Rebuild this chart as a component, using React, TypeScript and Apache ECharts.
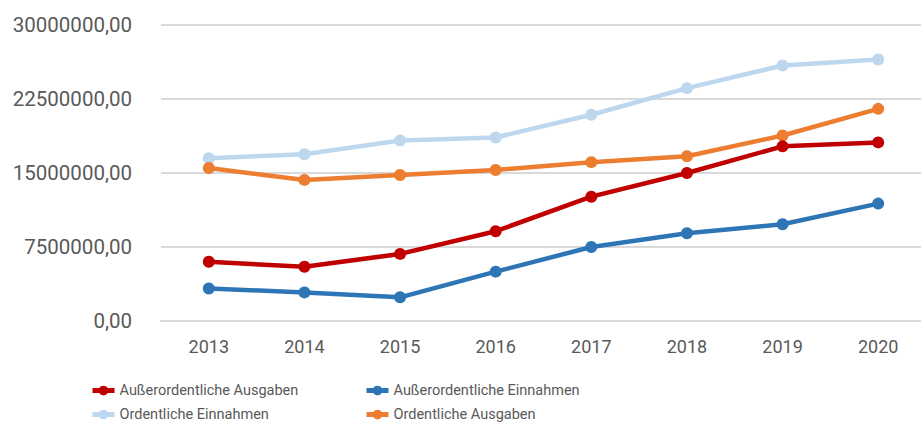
import React, { useEffect, useRef } from "react";
import * as echarts from "echarts";

const categories = ["2013", "2014", "2015", "2016", "2017", "2018", "2019", "2020"];
const ordentlicheEinnahmen = [16500000, 16900000, 18300000, 18600000, 20900000, 23600000, 25900000, 26500000];
const ordentlicheAusgaben = [15500000, 14300000, 14800000, 15300000, 16100000, 16700000, 18800000, 21500000];
const ausserordentlicheEinnahmen = [3300000, 2900000, 2400000, 5000000, 7500000, 8900000, 9800000, 11900000];
const ausserordentlicheAusgaben = [6000000, 5500000, 6800000, 9100000, 12600000, 15000000, 17700000, 18100000];

const FONT = "Roboto, sans-serif";

export default function App() {
  const ref = useRef<HTMLDivElement>(null);
  useEffect(() => {
    if (!ref.current) return;
    const chart = echarts.init(ref.current, null, { renderer: "svg" });
    const mk = (name: string, data: number[], color: string) => ({
      name,
      type: "line",
      data,
      symbol: "circle",
      symbolSize: 12,
      lineStyle: { color, width: 4.5 },
      itemStyle: { color },
    });
    const lg = (name: string, left: number, top: number) => ({
      orient: "horizontal",
      left,
      top,
      padding: 0,
      itemWidth: 22,
      itemHeight: 12,
      itemGap: 6,
      lineStyle: { width: 5 },
      data: [name],
      textStyle: { fontFamily: FONT, fontSize: 14.5, color: "#595959" },
    });
    chart.setOption({
      animation: false,
      backgroundColor: "#ffffff",
      grid: { left: 161, top: 25, width: 765, height: 296 },
      legend: [
        lg("Außerordentliche Ausgaben", 90, 383),
        lg("Außerordentliche Einnahmen", 364, 383),
        lg("Ordentliche Einnahmen", 90, 407),
        lg("Ordentliche Ausgaben", 364, 407),
      ],
      xAxis: {
        type: "category",
        data: categories,
        boundaryGap: true,
        axisLine: { show: true, lineStyle: { color: "#d9d9d9", width: 2 } },
        axisTick: { show: false },
        axisLabel: { fontFamily: FONT, fontSize: 18, color: "#595959", margin: 16 },
      },
      yAxis: {
        type: "value",
        min: 0,
        max: 30000000,
        interval: 7500000,
        axisLine: { show: false },
        axisTick: { show: false },
        splitLine: { lineStyle: { color: "#d9d9d9", width: 2 } },
        axisLabel: {
          fontFamily: FONT,
          fontSize: 20.5,
          color: "#595959",
          margin: 29,
          formatter: (v: number) => `${Math.round(v)},00`,
        },
      },
      series: [
        mk("Ordentliche Einnahmen", ordentlicheEinnahmen, "#BDD7EE"),
        mk("Ordentliche Ausgaben", ordentlicheAusgaben, "#ED7D31"),
        mk("Außerordentliche Einnahmen", ausserordentlicheEinnahmen, "#2E75B6"),
        mk("Außerordentliche Ausgaben", ausserordentlicheAusgaben, "#C00000"),
      ],
    });
    return () => chart.dispose();
  }, []);
  return (
    <div style={{ width: 921, height: 423, position: "absolute", left: 0, top: 0, overflow: "hidden" }}>
      <div ref={ref} style={{ width: 930, height: 423 }} />
    </div>
  );
}
